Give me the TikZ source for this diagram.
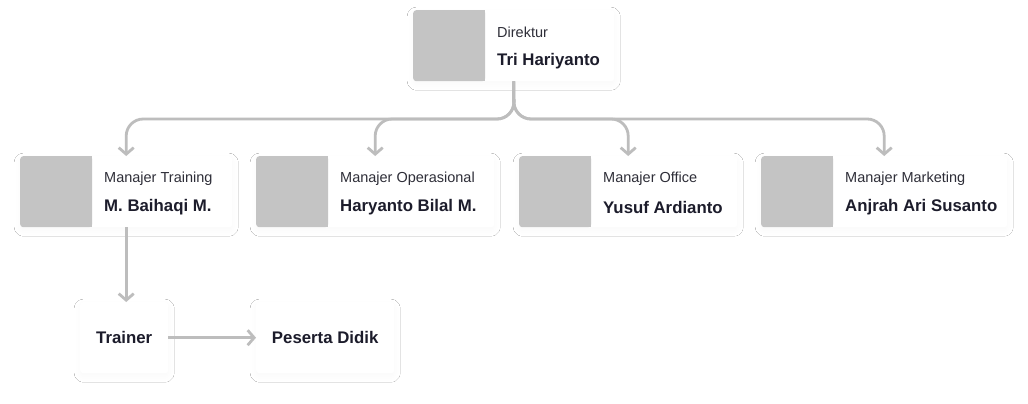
\documentclass[tikz,border=0pt]{standalone}
\usepackage{fontspec}
\setmainfont{Liberation Sans}
\usetikzlibrary{arrows.meta,shadows.blur}
\definecolor{photo}{HTML}{C4C4C4}
\definecolor{conn}{HTML}{BDBDBD}
\definecolor{ink}{HTML}{1C1C2B}
\definecolor{sub}{HTML}{2E2E38}
\tikzset{
  card/.style={fill=white, rounded corners=3pt, anchor=north west, inner sep=0pt,
    blur shadow={shadow blur steps=10, shadow xshift=0pt, shadow yshift=-3pt, shadow opacity=2.5, shadow blur radius=6pt}},
  photobox/.style={fill=photo, rounded corners=3pt, anchor=north west, inner sep=0pt, minimum width=72pt, minimum height=71pt},
  role/.style={anchor=west, inner sep=0pt, text=sub, font=\fontsize{14.5}{17}\selectfont},
  who/.style={anchor=west, inner sep=0pt, text=ink, font=\fontsize{16.8}{20}\selectfont\bfseries},
  conn/.style={draw=conn, line width=2.8pt, rounded corners=17pt, -{Straight Barb[length=6.5pt,width=15pt]}}
}
\begin{document}
\begin{tikzpicture}[x=1pt,y=-1pt]
\useasboundingbox[fill=white] (0,0) rectangle (1028,404);
% Direktur
\node[card, minimum width=201pt, minimum height=71pt] (d) at (413,10) {};
\node[photobox] (dp) at (d.north west) {};
\fill[photo] (478,10) rectangle (485,81);
\node[role] (dr) at (497,32.5) {Direktur};
\node[who] (dn) at (497,61.5) {Tri Hariyanto};
% Managers
\node[card, minimum width=212pt, minimum height=71pt] (m1) at (20,156) {};
\node[photobox] (m1p) at (m1.north west) {};
\fill[photo] (85,156) rectangle (92,227);
\node[role] (m1r) at (104,178.5) {Manajer Training};
\node[who] (m1n) at (104,207.5) {M. Baihaqi M.};
\node[card, minimum width=238pt, minimum height=71pt] (m2) at (256,156) {};
\node[photobox] (m2p) at (m2.north west) {};
\fill[photo] (321,156) rectangle (328,227);
\node[role] (m2r) at (340,178.5) {Manajer Operasional};
\node[who] (m2n) at (340,207.5) {Haryanto Bilal M.};
\node[card, minimum width=218pt, minimum height=71pt] (m3) at (519,156) {};
\node[photobox] (m3p) at (m3.north west) {};
\fill[photo] (584,156) rectangle (591,227);
\node[role] (m3r) at (603,178.5) {Manajer Office};
\node[who] (m3n) at (603,207.5) {Yusuf Ardianto};
\node[card, minimum width=246pt, minimum height=71pt] (m4) at (761,156) {};
\node[photobox] (m4p) at (m4.north west) {};
\fill[photo] (826,156) rectangle (833,227);
\node[role] (m4r) at (845,178.5) {Manajer Marketing};
\node[who] (m4n) at (845,207.5) {Anjrah Ari Susanto};
% Lower
\node[card, minimum width=88pt, minimum height=71pt] (t) at (80,302) {};
\node[who] (tn) at (t.center) [anchor=center] {Trainer};
\node[card, minimum width=138pt, minimum height=71pt] (p) at (256,302) {};
\node[who] (pn) at (p.center) [anchor=center] {Peserta Didik};
% Connectors
\coordinate (bus) at (514,119);
\draw[conn] (d.south) -- (bus) -| (m1.north);
\draw[conn] (d.south) -- (bus) -| (m2.north);
\draw[conn] (d.south) -- (bus) -| (m3.north);
\draw[conn] (d.south) -- (bus) -| (m4.north);
\draw[conn] (m1.south) -- (m1.south |- t.north);
\draw[conn] (t.east) -- (p.west);
\end{tikzpicture}
\end{document}
